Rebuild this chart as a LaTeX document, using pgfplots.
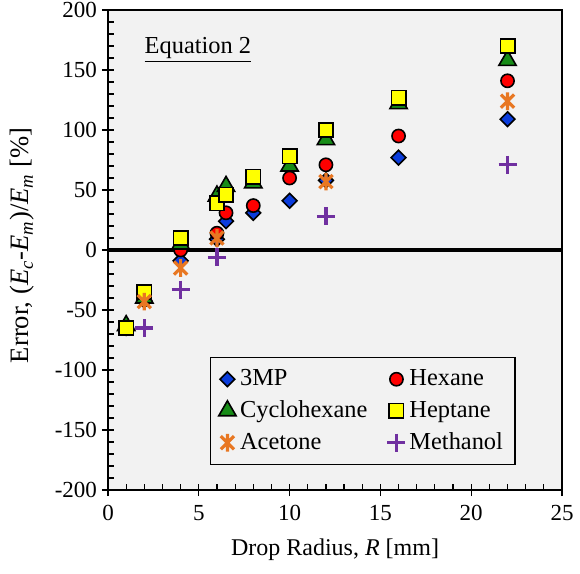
\documentclass[border=0pt]{standalone}
\usepackage{fontspec}
\setmainfont{Liberation Serif}
\usepackage{pgfplots}
\pgfplotsset{compat=1.18}
\definecolor{bgc}{HTML}{F2F2F2}
\definecolor{c3mp}{HTML}{0A3CDC}
\definecolor{chex}{HTML}{FF0000}
\definecolor{ccyc}{HTML}{178C17}
\definecolor{chep}{HTML}{FFFF00}
\definecolor{cace}{HTML}{E87722}
\definecolor{cmet}{HTML}{7030A0}
\pgfdeclareplotmark{xstar}{%
  \pgfpathmoveto{\pgfqpoint{-0.75\pgfplotmarksize}{-0.75\pgfplotmarksize}}%
  \pgfpathlineto{\pgfqpoint{0.75\pgfplotmarksize}{0.75\pgfplotmarksize}}%
  \pgfpathmoveto{\pgfqpoint{-0.75\pgfplotmarksize}{0.75\pgfplotmarksize}}%
  \pgfpathlineto{\pgfqpoint{0.75\pgfplotmarksize}{-0.75\pgfplotmarksize}}%
  \pgfpathmoveto{\pgfqpoint{0pt}{-\pgfplotmarksize}}%
  \pgfpathlineto{\pgfqpoint{0pt}{\pgfplotmarksize}}%
  \pgfusepathqstroke}
\begin{document}
\begin{tikzpicture}[font=\fontsize{11.5}{13.8}\selectfont]
\begin{axis}[
  scale only axis,
  width=227pt, height=240pt,
  xmin=0, xmax=25, ymin=-200, ymax=200,
  xtick={0,5,...,25}, ytick={-200,-150,...,200},
  minor x tick num=4, minor y tick num=4,
  xtick pos=bottom, ytick pos=left,
  tick align=inside,
  major tick length=6pt, minor tick length=3pt,
  every major x tick/.append style={yshift=-3pt},
  every major y tick/.append style={xshift=-3pt},
  tick style={black, line width=0.6pt},
  axis line style={line width=0.6pt},
  axis background/.style={fill=bgc},
  /pgf/number format/assume math mode=true,
  xticklabel style={yshift=-4pt},
  yticklabel style={xshift=-2pt},
  xlabel={Drop Radius, \textit{R} [mm]},
  ylabel={Error, (\textit{E}\textsubscript{\textit{c}}-\textit{E}\textsubscript{\textit{m}})/\textit{E}\textsubscript{\textit{m}} [\%]},
  every axis x label/.style={at={(axis description cs:0.5,-0.125)}, anchor=center, font=\fontsize{12}{14}\selectfont},
  every axis y label/.style={at={(axis description cs:-0.189,0.51)}, anchor=center, rotate=90, font=\fontsize{13.3}{15}\selectfont},
  clip=false,
  only marks,
  legend columns=2,
  legend cell align=left,
  legend style={at={(axis description cs:0.225,0.277)}, anchor=north west,
    font=\fontsize{12.2}{14.5}\selectfont,
    draw=black, line width=0.6pt, fill=bgc, row sep=2pt, inner xsep=4pt, inner ysep=4pt,
    /tikz/every even column/.append style={column sep=8pt}},
  legend image code/.code={\draw[mark repeat=2,mark phase=2,#1] plot coordinates {(0cm,0cm) (0.15cm,0cm) (0.3cm,0cm)};},
]
% 3MP
\addplot[mark=square*, mark size=2.6pt, mark options={rotate=45, fill=c3mp, draw=black, line width=0.8pt}]
 coordinates {(1,-65) (2,-42) (4,-9) (6,9) (6.5,24) (8,31) (10,41) (12,58) (16,77) (22,109)};
\addlegendentry{3MP}
% Hexane
\addplot[mark=*, mark size=3.3pt, mark options={fill=chex, draw=black, line width=0.8pt}]
 coordinates {(1,-65) (2,-41) (4,0) (6,14) (6.5,31) (8,37) (10,60) (12,71) (16,95) (22,141)};
\addlegendentry{Hexane}
% Cyclohexane
\addplot[mark=triangle*, mark size=5pt, mark options={fill=ccyc, draw=black, line width=0.8pt}]
 coordinates {(1,-63) (2,-40) (4,5) (6,45) (6.5,53) (8,56) (10,70) (12,92) (16,122) (22,158)};
\addlegendentry{Cyclohexane}
% Heptane
\addplot[mark=square*, mark size=3.6pt, mark options={fill=chep, draw=black, line width=0.8pt}]
 coordinates {(1,-65) (2,-35) (4,10) (6,39) (6.5,46) (8,61) (10,78) (12,100) (16,127) (22,170)};
\addlegendentry{Heptane}
% Acetone
\addplot[mark=xstar, mark size=4.4pt, mark options={draw=cace, line width=1.6pt}]
 coordinates {(2,-43) (4,-15) (6,10) (12,57) (22,124)};
\addlegendentry{Acetone}
% Methanol
\addplot[mark=+, mark size=4.5pt, mark options={draw=cmet, line width=1.6pt}]
 coordinates {(2,-65) (4,-33) (6,-6) (12,28) (22,71)};
\addlegendentry{Methanol}
% zero line
\addplot[no marks, sharp plot, black, line width=1.6pt, forget plot] coordinates {(0,0) (25,0)};
\node[anchor=west, inner sep=0pt, font=\fontsize{12.2}{14.5}\selectfont] at (axis cs:2,167) {\underline{Equation 2}};
\end{axis}
\pgfresetboundingbox
\path ([shift={(-54pt,-41.5pt)}]current axis.south west) rectangle ([shift={(9pt,5pt)}]current axis.north east);
\end{tikzpicture}
\end{document}
